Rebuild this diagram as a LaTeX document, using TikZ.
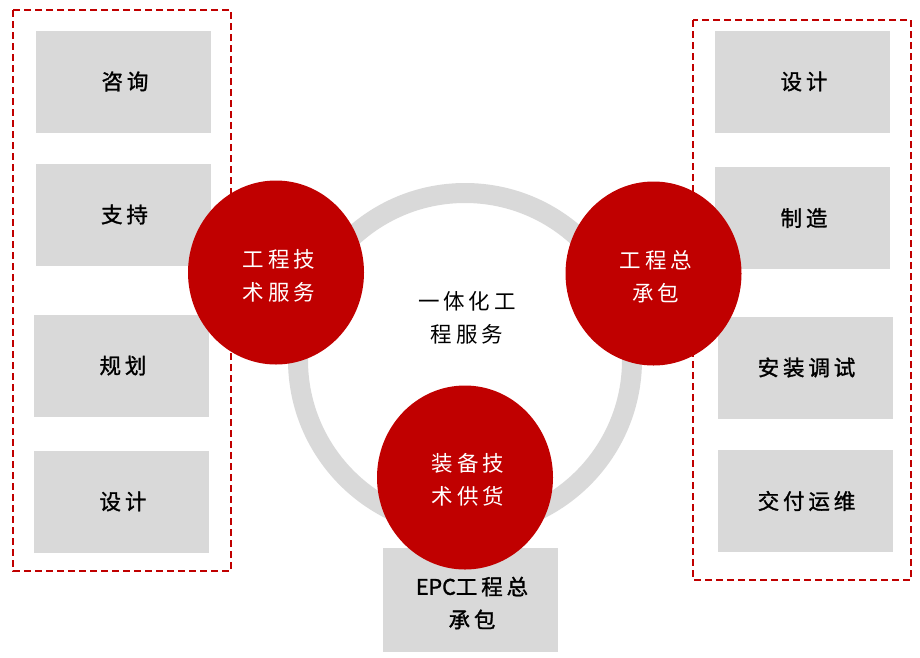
\documentclass[tikz,border=0pt]{standalone}
\usepackage{fontspec}
\usetikzlibrary{shapes.geometric}
\newfontfamily\cjk[LetterSpace=18]{Noto Sans CJK SC}
\newfontfamily\cjkb[LetterSpace=18,FakeBold=1.3]{Noto Sans CJK SC}
\newfontfamily\cjkn[FakeBold=1.3]{Noto Sans CJK SC}
\definecolor{myred}{HTML}{C00000}
\definecolor{mygray}{HTML}{D9D9D9}
\tikzset{
  graybox/.style={fill=mygray, draw=none, minimum width=175pt, minimum height=102pt, inner sep=0pt,
    font=\cjkb\fontsize{21.5}{33}\selectfont, text=black, align=center},
  redball/.style={ellipse, fill=myred, draw=none, minimum width=176pt, minimum height=184pt, inner sep=0pt},
  balltext/.style={font=\cjk\fontsize{21.5}{33}\selectfont, text=white, align=center, inner sep=0pt},
  dashframe/.style={draw=myred, line width=1.3pt, dash pattern=on 7pt off 4pt},
}
\begin{document}
\begin{tikzpicture}[x=1pt,y=-1pt]
\useasboundingbox (0,0) rectangle (920,657);
% frames
\draw[dashframe] (13,10) rectangle (231,571);
\draw[dashframe] (693,20) rectangle (911,580);
% ring
\draw[mygray, line width=20pt] (465,360) circle[radius=167pt];
\node[font=\cjk\fontsize{21.5}{33}\selectfont, align=center, inner sep=0pt] (center) at (467,318) {一体化工\\程服务};
% left boxes
\node[graybox] (l1) at (123.5,81.5) {\hspace*{3pt}咨询};
\node[graybox] (l2) at (123,214.5) {\hspace*{3pt}支持};
\node[graybox] (l3) at (121.5,365.5) {\hspace*{3pt}规划};
\node[graybox] (l4) at (121.5,501.5) {\hspace*{3pt}设计};
% right boxes
\node[graybox] (r1) at (802.5,81.5) {\hspace*{3pt}设计};
\node[graybox] (r2) at (802.5,218) {\hspace*{3pt}制造};
\node[graybox] (r3) at (805,367.5) {\hspace*{3pt}安装调试};
\node[graybox] (r4) at (805,501) {\hspace*{3pt}交付运维};
% bottom box
\node[graybox, minimum height=104pt] (epc) at (470.5,600) {};
\node[font=\cjkb\fontsize{21.5}{33}\selectfont, align=center, inner sep=0pt] (epct) at (472,603) {{\cjkn EPC}工程总\\承包};
% red balls
\node[redball] (b1) at (276,272.5) {};
\node[balltext] at (279,276) {工程技\\术服务};
\node[redball] (b2) at (653.5,273.5) {};
\node[balltext] at (656,277) {工程总\\承包};
\node[redball] (b3) at (465,477.5) {};
\node[balltext] at (468,480) {装备技\\术供货};
\end{tikzpicture}
\end{document}
